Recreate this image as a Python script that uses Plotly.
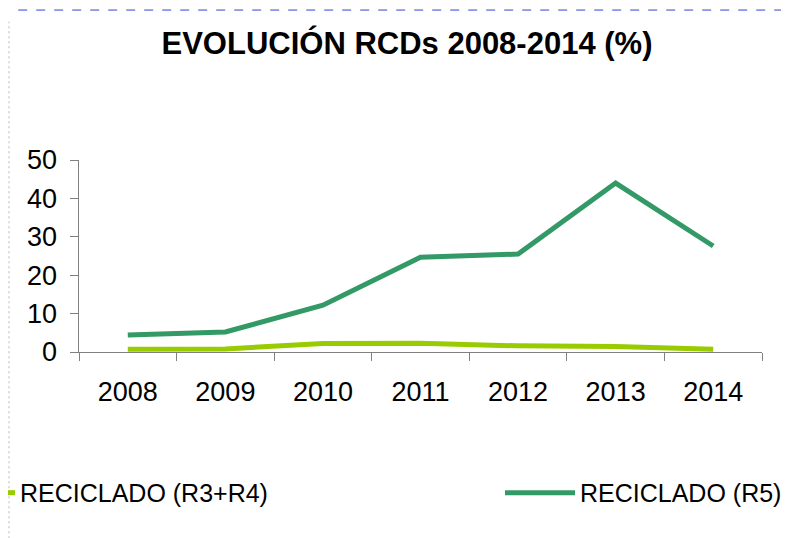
import plotly.graph_objects as go

years = ["2008", "2009", "2010", "2011", "2012", "2013", "2014"]
r3_r4 = [0.7, 0.8, 2.2, 2.3, 1.6, 1.4, 0.7]
r5 = [4.4, 5.2, 12.2, 24.7, 25.5, 44.0, 27.6]

fig = go.Figure()
fig.add_trace(go.Scatter(
    x=years, y=r3_r4, mode="lines", name="RECICLADO (R3+R4)",
    line=dict(color="#99cc00", width=5), legend="legend",
))
fig.add_trace(go.Scatter(
    x=years, y=r5, mode="lines", name="RECICLADO (R5)",
    line=dict(color="#339966", width=5), legend="legend2",
))

# page decorations: blue dashed top rule and grey stripes on the left edge
fig.add_shape(type="line", xref="paper", yref="paper", x0=-0.089, x1=1.06, y0=1.781, y1=1.781,
              line=dict(color="#3344cc", width=1, dash="dash"))
fig.add_shape(type="line", xref="paper", yref="paper", x0=-0.1069, x1=-0.1069, y0=-1.1, y1=1.72,
              line=dict(color="#dcdcdc", width=8, dash="2px,3px"))

legend_font = dict(size=25, color="black")

# the page body adds an 8px offset, so the margins are shifted by that amount
fig.update_layout(
    width=789, height=538,
    margin=dict(l=71, r=35, t=152, b=194, autoexpand=False),
    paper_bgcolor="white", plot_bgcolor="white",
    font=dict(family="Liberation Sans, Arial, sans-serif", color="black"),
    title=dict(text="<b>EVOLUCIÓN RCDs 2008-2014 (%)</b>", x=0.5057, xref="container",
               y=0.935, yanchor="middle", font=dict(size=31, color="black")),
    xaxis=dict(type="category", range=[-0.5, 6.5], showline=True, linecolor="#808080",
               linewidth=1, ticks="outside", tickson="boundaries", ticklen=8,
               tickcolor="#808080", showgrid=False, tickfont=dict(size=27),
               ticklabelstandoff=16),
    # a no-break space pushes the labels a little further from the axis
    yaxis=dict(range=[0, 50], dtick=10, showline=True, linecolor="#808080", linewidth=1,
               ticks="outside", ticklen=8, tickcolor="#808080", showgrid=False,
               zeroline=False, tickfont=dict(size=27), ticksuffix="\u00a0"),
    showlegend=True,
    legend=dict(x=-0.145, xanchor="left", y=-0.734, yanchor="middle", itemwidth=30,
                font=legend_font, bgcolor="rgba(0,0,0,0)"),
    legend2=dict(x=0.6164, xanchor="left", y=-0.734, yanchor="middle", itemwidth=70,
                 font=legend_font, bgcolor="rgba(0,0,0,0)"),
)

fig.write_html("out.html")
